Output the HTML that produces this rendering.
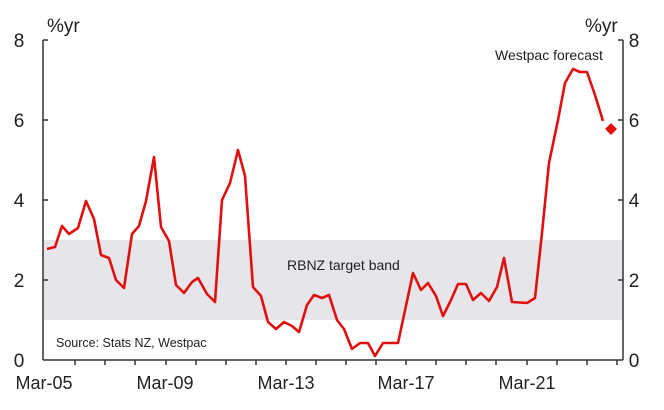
<!DOCTYPE html>
<html><head><meta charset="utf-8"><style>
body{margin:0;background:#fff;}
svg{display:block;font-family:"Liberation Sans",Arial,sans-serif;}
</style></head><body>
<svg width="664" height="410" viewBox="0 0 664 410" xmlns="http://www.w3.org/2000/svg">
<rect x="43" y="240" width="580" height="80" fill="#e6e6ea"/>
<g stroke="#333" stroke-width="1.5" fill="none">
<line x1="43" y1="40" x2="43" y2="360"/>
<line x1="623" y1="40" x2="623" y2="360"/>
<line x1="43" y1="360" x2="623" y2="360"/>
<line x1="43" y1="40" x2="48" y2="40"/><line x1="43" y1="120" x2="48" y2="120"/><line x1="43" y1="200" x2="48" y2="200"/><line x1="43" y1="280" x2="48" y2="280"/>
<line x1="618" y1="40" x2="623" y2="40"/><line x1="618" y1="120" x2="623" y2="120"/><line x1="618" y1="200" x2="623" y2="200"/><line x1="618" y1="280" x2="623" y2="280"/>
<path d="M75 360v5M105 360v5M135 360v5M166 360v5M196 360v5M226 360v5M256 360v5M286 360v5M316 360v5M346 360v5M376 360v5M406 360v5M436 360v5M466 360v5M496 360v5M527 360v5M557 360v5M587 360v5M617 360v5"/>
</g>
<polyline fill="none" stroke="#e01010" stroke-width="2.6" stroke-linejoin="round" points="47,249 55,247 62,226 69,234 78,228 86,201 94,219 101,255 109,258 116,280 124,288 132,234 139,226 146,201 154,157 161,227 169,241 176,285 184,293 192,282 198,278 207,294 215,302 222,200 230,183 238,150 245,176 253,287 261,296 268,322 276,329 284,322 292,326 299,332 307,305 314,295 322,298 329,295 337,320 344,329 352,349 360,343 368,343 375,356 383,343 398,343 413,273 421,290 428,283 436,296 443,316 451,300 458,284 466,284 473,300 481,293 489,301 497,287 504,258 512,302 527,303 535,298 542,233 549,163 558,120 565,83 573,69 580,72 587,72 595,95 603,121"/>
<polygon points="611,123 617,129 611,135 605,129" fill="#e01010"/>
<g fill="#222" font-size="19">
<text x="47" y="32">%yr</text>
<text x="585" y="32">%yr</text>
<g text-anchor="middle">
<text x="19" y="47">8</text><text x="19" y="127">6</text><text x="19" y="207">4</text><text x="19" y="287">2</text><text x="19" y="367">0</text>
<text x="634" y="47">8</text><text x="634" y="127">6</text><text x="634" y="207">4</text><text x="634" y="287">2</text><text x="634" y="367">0</text>
</g>
<g text-anchor="middle" font-size="18">
<text x="44" y="389">Mar-05</text><text x="165" y="389">Mar-09</text><text x="286" y="389">Mar-13</text><text x="406" y="389">Mar-17</text><text x="527" y="389">Mar-21</text>
</g>
<text x="287" y="270" font-size="14">RBNZ target band</text>
<text x="495" y="60" font-size="14">Westpac forecast</text>
<text x="56" y="347" font-size="12.5">Source: Stats NZ, Westpac</text>
</g>
</svg>
</body></html>
